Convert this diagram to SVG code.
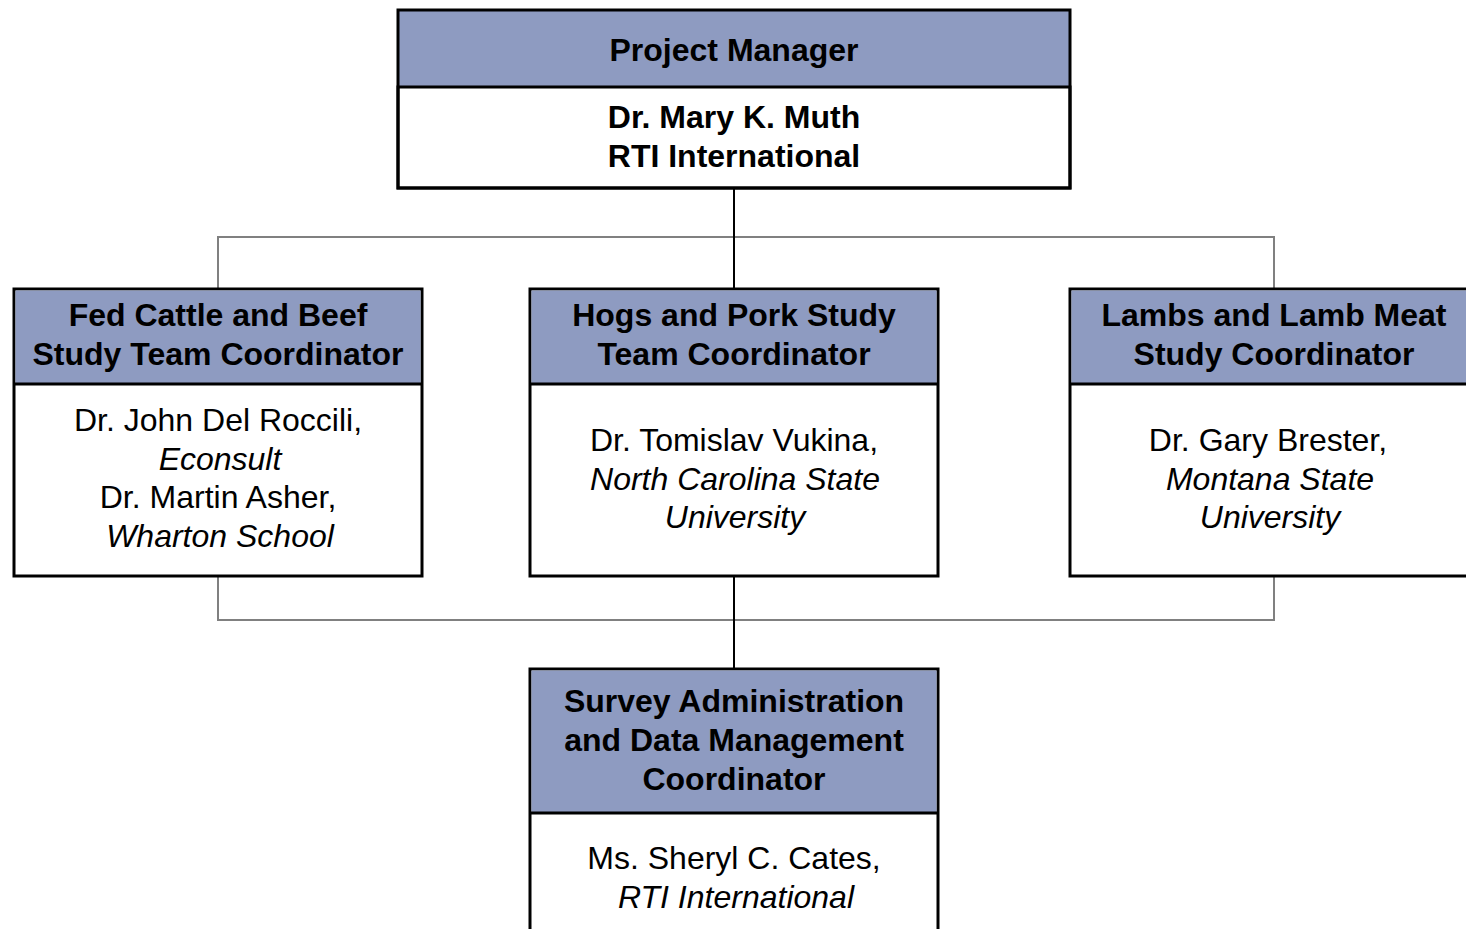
<svg xmlns="http://www.w3.org/2000/svg" width="1466" height="929" viewBox="0 0 1466 929">
  <style>
    .box { fill: #ffffff; stroke: #000000; stroke-width: 3; }
    .head { fill: #8e9bc1; }
    .rule { stroke: #000000; stroke-width: 3; }
    .link { fill: none; stroke: #000000; stroke-width: 2; }
    .bus { fill: none; stroke: #808080; stroke-width: 2; }
    text { font-family: "Liberation Sans", Arial, sans-serif; font-size: 32px; fill: #000000; text-anchor: middle; }
    .b { font-weight: bold; }
    .i { font-style: italic; }
  </style>
  <rect width="1466" height="929" fill="#ffffff"/>

  <!-- connectors -->
  <g id="connectors">
    <path class="bus" d="M218 289 V237 H1274 V289"/>
    <path class="bus" d="M218 576 V620 H1274 V576"/>
    <path class="link" d="M734 188 V289"/>
    <path class="link" d="M734 576 V669"/>
  </g>

  <!-- project manager -->
  <g id="project-manager">
    <rect class="head" x="398" y="10" width="672" height="77"/>
    <rect class="box" x="398" y="87" width="672" height="101"/>
    <rect x="398" y="10" width="672" height="178" fill="none" stroke="#000" stroke-width="3"/>
    <text class="b" x="734" y="61">Project Manager</text>
    <text class="b" x="734" y="128">Dr. Mary K. Muth</text>
    <text class="b" x="734" y="167">RTI International</text>
  </g>

  <!-- fed cattle and beef -->
  <g id="fed-cattle">
    <rect class="box" x="14" y="289" width="408" height="287"/>
    <rect class="head" x="15.5" y="290.5" width="405" height="93.5"/>
    <line class="rule" x1="14" y1="384" x2="422" y2="384"/>
    <text class="b" x="218" y="326">Fed Cattle and Beef</text>
    <text class="b" x="218" y="365">Study Team Coordinator</text>
    <text x="218" y="431">Dr. John Del Roccili,</text>
    <text class="i" x="220" y="470">Econsult</text>
    <text x="218" y="508">Dr. Martin Asher,</text>
    <text class="i" x="220" y="547">Wharton School</text>
  </g>

  <!-- hogs and pork -->
  <g id="hogs-pork">
    <rect class="box" x="530" y="289" width="408" height="287"/>
    <rect class="head" x="531.5" y="290.5" width="405" height="93.5"/>
    <line class="rule" x1="530" y1="384" x2="938" y2="384"/>
    <text class="b" x="734" y="326">Hogs and Pork Study</text>
    <text class="b" x="734" y="365">Team Coordinator</text>
    <text x="734" y="451">Dr. Tomislav Vukina,</text>
    <text class="i" x="735" y="490">North Carolina State</text>
    <text class="i" x="735" y="528">University</text>
  </g>

  <!-- lambs and lamb meat -->
  <g id="lambs">
    <rect class="box" x="1070" y="289" width="408" height="287"/>
    <rect class="head" x="1071.5" y="290.5" width="405" height="93.5"/>
    <line class="rule" x1="1070" y1="384" x2="1478" y2="384"/>
    <text class="b" x="1274" y="326">Lambs and Lamb Meat</text>
    <text class="b" x="1274" y="365">Study Coordinator</text>
    <text x="1268" y="451">Dr. Gary Brester,</text>
    <text class="i" x="1270" y="490">Montana State</text>
    <text class="i" x="1270" y="528">University</text>
  </g>

  <!-- survey administration -->
  <g id="survey-admin">
    <rect class="box" x="530" y="669" width="408" height="290"/>
    <rect class="head" x="531.5" y="670.5" width="405" height="142.5"/>
    <line class="rule" x1="530" y1="813" x2="938" y2="813"/>
    <text class="b" x="734" y="712">Survey Administration</text>
    <text class="b" x="734" y="751">and Data Management</text>
    <text class="b" x="734" y="790">Coordinator</text>
    <text x="734" y="869">Ms. Sheryl C. Cates,</text>
    <text class="i" x="736" y="908">RTI International</text>
  </g>
</svg>
